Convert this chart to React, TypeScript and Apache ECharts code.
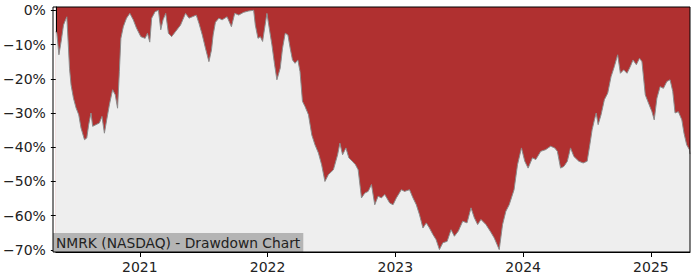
import React, { useEffect, useRef } from "react";
import * as echarts from "echarts";

const years = [
  2020.343, 2020.351, 2020.367, 2020.385, 2020.403, 2020.419, 2020.429, 2020.439, 2020.45, 2020.462,
  2020.481, 2020.501, 2020.522, 2020.54, 2020.567, 2020.585, 2020.6, 2020.618, 2020.631, 2020.657,
  2020.684, 2020.704, 2020.723, 2020.741, 2020.762, 2020.787, 2020.808, 2020.826, 2020.84, 2020.852,
  2020.871, 2020.896, 2020.922, 2020.949, 2020.974, 2021.008, 2021.042, 2021.06, 2021.078, 2021.093,
  2021.12, 2021.146, 2021.164, 2021.182, 2021.203, 2021.224, 2021.249, 2021.28, 2021.319, 2021.358,
  2021.385, 2021.411, 2021.442, 2021.463, 2021.489, 2021.514, 2021.541, 2021.561, 2021.574, 2021.592,
  2021.619, 2021.644, 2021.683, 2021.717, 2021.743, 2021.774, 2021.813, 2021.852, 2021.891, 2021.904,
  2021.925, 2021.943, 2021.961, 2021.977, 2021.995, 2022.013, 2022.034, 2022.055, 2022.073, 2022.099,
  2022.117, 2022.138, 2022.159, 2022.177, 2022.195, 2022.215, 2022.237, 2022.254, 2022.273, 2022.293,
  2022.32, 2022.346, 2022.371, 2022.398, 2022.423, 2022.449, 2022.476, 2022.515, 2022.548, 2022.566,
  2022.587, 2022.613, 2022.636, 2022.663, 2022.688, 2022.709, 2022.735, 2022.761, 2022.787, 2022.813,
  2022.839, 2022.865, 2022.891, 2022.917, 2022.956, 2022.982, 2023.008, 2023.047, 2023.072, 2023.111,
  2023.138, 2023.164, 2023.189, 2023.216, 2023.242, 2023.267, 2023.294, 2023.319, 2023.345, 2023.372,
  2023.405, 2023.436, 2023.462, 2023.493, 2023.527, 2023.561, 2023.592, 2023.618, 2023.644, 2023.67,
  2023.709, 2023.742, 2023.774, 2023.813, 2023.839, 2023.865, 2023.891, 2023.929, 2023.956, 2023.987,
  2024.013, 2024.039, 2024.073, 2024.099, 2024.138, 2024.176, 2024.215, 2024.247, 2024.268, 2024.293,
  2024.319, 2024.346, 2024.371, 2024.397, 2024.436, 2024.47, 2024.501, 2024.522, 2024.54, 2024.558,
  2024.572, 2024.587, 2024.61, 2024.636, 2024.662, 2024.688, 2024.714, 2024.74, 2024.761, 2024.787,
  2024.813, 2024.839, 2024.86, 2024.886, 2024.911, 2024.93, 2024.956, 2024.981, 2025.008, 2025.026,
  2025.047, 2025.072, 2025.098, 2025.125, 2025.15, 2025.171, 2025.189, 2025.215, 2025.242, 2025.259,
  2025.28, 2025.301, 2025.306,
];

const drawdown = [
  -6.2, -6.8, -13, -9, -4.3, -2.8, -1.9, -9, -17, -21.8,
  -25.7, -28.5, -30.5, -34.4, -37.8, -37.3, -33.4, -30, -33.9, -33.4,
  -32.9, -31, -35.9, -32, -27.6, -23.2, -24.7, -28.6, -17.9, -8.2,
  -4.8, -2.3, -0.9, -2.8, -5.2, -7.7, -8.2, -6.7, -9.3, -2.3,
  -0.4, 0, -5.7, -2.8, -0.9, -6.7, -7.7, -6.2, -4.3, -0.9,
  -2.3, -1.9, -1.4, -3.8, -7.2, -11.1, -15, -11.6, -7.2, -3.5,
  -2.3, -2.8, -1.9, -4.8, -0.9, -1.4, -0.6, -0.2, 0, -4.3,
  -8.2, -7.7, -9.1, -5.2, -0.9, -5.2, -10.1, -15.9, -20.3, -16.9,
  -11.1, -6.7, -7.2, -11.1, -14.5, -15.5, -14.5, -17.9, -26.6, -28.1,
  -30.5, -36.4, -39.3, -41.7, -45.1, -50, -48, -46.6, -42.2, -38.8,
  -42.2, -40.2, -43.1, -44.1, -45.1, -46.6, -54.8, -53.4, -52.9, -50.9,
  -56.8, -54.3, -54.8, -53.8, -56.3, -56.8, -54.8, -52.4, -52.9, -52.4,
  -54.8, -56.8, -59.7, -63.6, -62.1, -63.6, -65.5, -67, -69.9, -67.9,
  -67.5, -64.1, -66, -64.5, -61.6, -62.1, -57.7, -60.6, -62.6, -61.1,
  -62.6, -64.5, -66.5, -69.9, -62.6, -58.7, -56.8, -52.4, -45.1, -40.2,
  -44.1, -46.1, -43.1, -43.6, -41.2, -40.7, -39.7, -40.2, -41.2, -46.1,
  -45.6, -44.1, -40.2, -42.7, -44.1, -44.6, -44.1, -39.3, -34.9, -32,
  -30, -33.4, -30.5, -26.1, -24.2, -19.4, -16.4, -13, -18.4, -17.4,
  -18.4, -16.4, -14.5, -15.9, -14, -15, -24.7, -27.1, -29.6, -32,
  -25.7, -22.3, -22.8, -20.8, -20.3, -23.7, -30, -29.6, -32, -35.9,
  -39.3, -40.7, -42,
];

const xTicks = [2021, 2022, 2023, 2024, 2025];
const yTicks = [0, -10, -20, -30, -40, -50, -60, -70];
const title = "NMRK (NASDAQ) - Drawdown Chart";

export default function App() {
  const ref = useRef<HTMLDivElement>(null);
  useEffect(() => {
    if (!ref.current) return;
    const chart = echarts.init(ref.current, null, { renderer: "svg" });
    const font = "DejaVu Sans";
    const gl = 53, gt = 7, gr = 10, gb = 28;
    chart.setOption({
      animation: false,
      backgroundColor: "#ffffff",
      grid: {
        left: gl,
        top: gt,
        right: gr,
        bottom: gb,
        show: true,
        backgroundColor: "#b03030",
        borderWidth: 0,
      },
      xAxis: {
        type: "value",
        min: 2020.343,
        max: 2025.306,
        splitLine: { show: false },
        axisLine: { show: true, onZero: false, lineStyle: { color: "#000", width: 1 } },
        axisTick: { show: true, customValues: xTicks, length: 5, lineStyle: { color: "#000" } },
        axisLabel: {
          customValues: xTicks,
          margin: 8,
          color: "#222",
          fontFamily: font,
          fontSize: 14,
          formatter: (v: number) => String(Math.round(v)),
        },
      },
      yAxis: {
        type: "value",
        min: -70.6,
        max: 0.96,
        splitLine: { show: false },
        axisLine: { show: true, onZero: false, lineStyle: { color: "#000", width: 1 } },
        axisTick: { show: true, customValues: yTicks, length: 5, lineStyle: { color: "#000" } },
        axisLabel: {
          customValues: yTicks,
          margin: 10,
          color: "#222",
          fontFamily: font,
          fontSize: 14,
          formatter: (v: number) => (v < 0 ? "\u2212" : "") + Math.abs(Math.round(v)) + "%",
        },
      },
      series: [
        {
          type: "line",
          data: years.map((y, i) => [y, drawdown[i]]),
          symbol: "none",
          showSymbol: false,
          lineStyle: { color: "#8c8c8c", width: 1 },
          areaStyle: { color: "#eeeeee", opacity: 1, origin: "start" },
          z: 2,
        },
      ],
      graphic: [
        {
          type: "rect",
          shape: { x: gl, y: gt, width: 700 - gl - gr, height: 280 - gt - gb },
          style: { fill: "none", stroke: "#000", lineWidth: 1 },
          z: 100,
          silent: true,
        },
        {
          type: "text",
          x: gl,
          y: 233,
          z: 99,
          style: {
            text: title,
            font: `13.8px "${font}"`,
            fill: "#222",
            backgroundColor: "#b4b4b4",
            padding: [3, 3, 2, 3],
          },
        },
      ],
    });
    return () => chart.dispose();
  }, []);
  return (
    <div
      ref={ref}
      style={{ position: "fixed", left: 0, top: 0, width: 700, height: 280 }}
    />
  );
}
